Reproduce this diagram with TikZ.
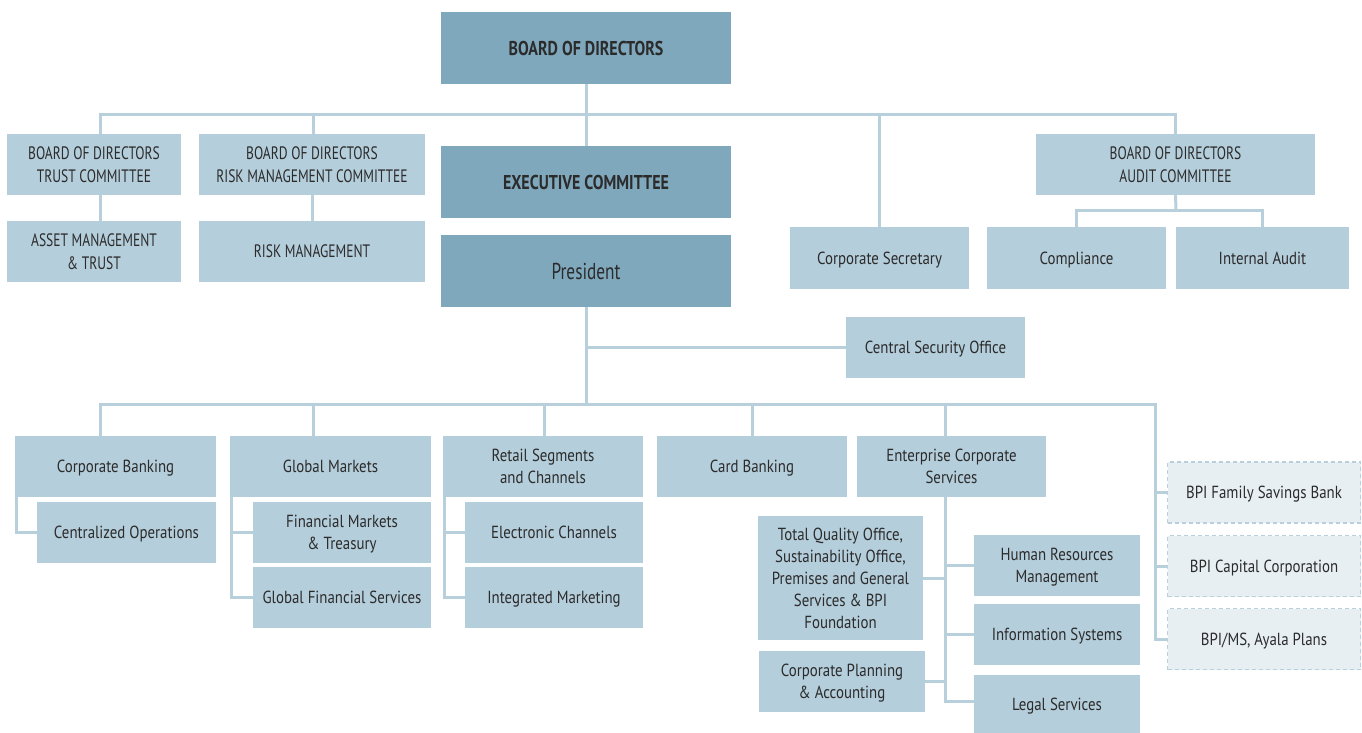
\documentclass[tikz,border=0pt]{standalone}
\usepackage{fontspec}
\setmainfont{PT Sans}[FakeStretch=0.85]
\newfontfamily\capsfont{PT Sans}[FakeStretch=0.75]
\newfontfamily\headfont{PT Sans}[FakeStretch=0.8]
\usepackage{tikz}
\usetikzlibrary{positioning,calc}
\definecolor{boxdark}{HTML}{7FA8BD}
\definecolor{boxlight}{HTML}{B5CEDB}
\definecolor{boxpale}{HTML}{E7EFF3}
\definecolor{linkcol}{HTML}{B8D0DC}
\definecolor{txtcol}{HTML}{2B2B2B}
\tikzset{
  topbox/.style={
      fill=boxdark,
      minimum width=290,
      minimum height=72,
      align=center,
      text=txtcol,
      text depth=0pt,
      font=\headfont\fontsize{20}{24}\selectfont\bfseries,
  },
  unitbox/.style={
      fill=boxlight,
      align=center,
      text=txtcol,
      text depth=0pt,
      inner sep=0pt,
      minimum height=61,
      font=\fontsize{17.5}{22}\selectfont,
  },
  capsbox/.style={
      unitbox,
      font=\capsfont\fontsize{18}{22.5}\selectfont,
  },
  subsidbox/.style={
      unitbox,
      fill=boxpale,
      draw=linkcol,
      line width=1.5,
      dash pattern=on 4 off 3,
      minimum width=193,
      minimum height=61,
  },
  link/.style={
      draw=linkcol,
      line width=3,
  }
}
\begin{document}
\begin{tikzpicture}[x=1pt,y=-1pt]
  \useasboundingbox (0,0) rectangle (1362,733);

  % top of the chart
  \node[topbox] (bod) at (586,48) {BOARD OF DIRECTORS};
  \node[topbox] (exec) at (586,182) {EXECUTIVE COMMITTEE};
  \node[topbox,font=\capsfont\fontsize{23}{26}\selectfont] (pres) at (586,271) {President};

  \node[capsbox,minimum width=174] (trustc) at (94,164.5) {BOARD OF DIRECTORS\\TRUST COMMITTEE};
  \node[capsbox,minimum width=226] (riskc) at (312,164.5) {BOARD OF DIRECTORS\\RISK MANAGEMENT COMMITTEE};
  \node[capsbox,minimum width=174] (asset) at (94,251.5) {ASSET MANAGEMENT\\\& TRUST};
  \node[capsbox,minimum width=226] (riskm) at (312,251.5) {RISK MANAGEMENT};
  \node[capsbox,minimum width=279] (auditc) at (1175.5,164.5) {BOARD OF DIRECTORS\\AUDIT COMMITTEE};
  \node[unitbox,minimum width=179,minimum height=62] (corpsec) at (879.5,258) {Corporate Secretary};
  \node[unitbox,minimum width=179,minimum height=62] (compl) at (1076.5,258) {Compliance};
  \node[unitbox,minimum width=173,minimum height=62] (intaud) at (1262.5,258) {Internal Audit};
  \node[unitbox,minimum width=179] (cso) at (935.5,347.5) {Central Security Office};

  % business groups
  \node[unitbox,minimum width=201] (corpbank) at (115.5,466.5) {Corporate Banking};
  \node[unitbox,minimum width=179] (centops) at (126.5,532.5) {Centralized Operations};
  \node[unitbox,minimum width=201] (globmkt) at (330.5,466.5) {Global Markets};
  \node[unitbox,minimum width=178] (fmt) at (342,532.5) {Financial Markets\\\& Treasury};
  \node[unitbox,minimum width=178] (gfs) at (342,597.5) {Global Financial Services};
  \node[unitbox,minimum width=200] (retail) at (543,466.5) {Retail Segments\\and Channels};
  \node[unitbox,minimum width=178] (echan) at (554,532.5) {Electronic Channels};
  \node[unitbox,minimum width=178] (intmkt) at (554,597.5) {Integrated Marketing};
  \node[unitbox,minimum width=190] (card) at (752,466.5) {Card Banking};
  \node[unitbox,minimum width=189] (ecs) at (951.5,466.5) {Enterprise Corporate\\Services};

  % enterprise corporate services
  \node[unitbox,minimum width=165,minimum height=124] (tqo) at (840.5,578)
    {Total Quality Office,\\Sustainability Office,\\Premises and General\\Services \& BPI\\Foundation};
  \node[unitbox,minimum width=166] (cpa) at (842,681.5) {Corporate Planning\\\& Accounting};
  \node[unitbox,minimum width=166] (hrm) at (1057,565.5) {Human Resources\\Management};
  \node[unitbox,minimum width=166] (infosys) at (1057,634.5) {Information Systems};
  \node[unitbox,minimum width=166,minimum height=58] (legal) at (1057,704) {Legal Services};

  % subsidiaries
  \node[subsidbox] (fsb) at (1264,492.5) {BPI Family Savings Bank};
  \node[subsidbox] (cap) at (1264,566) {BPI Capital Corporation};
  \node[subsidbox] (msap) at (1264,639) {BPI/MS, Ayala Plans};

  % connectors
  \coordinate (topbus) at (586,115);
  \coordinate (auditbus) at (1176,210);
  \coordinate (midbus) at (586,404);
  \coordinate (subbus) at (1155,404);
  \coordinate (ecsline) at ([xshift=-6.5]ecs.south);

  \path[link] (bod.south) -- (exec.north);
  \path[link] ([xshift=6]trustc.north) |- (topbus) -| (auditc.north);
  \path[link] ([xshift=6]trustc.south) -- ([xshift=6]asset.north);
  \path[link] ([xshift=1]riskc.north) -- ([xshift=1]riskc.north |- topbus);
  \path[link] (riskc.south) -- (riskm.north);
  \path[link] (corpsec.north) -- (corpsec.north |- topbus);
  \path[link] (auditc.south) -- (auditbus);
  \path[link] (compl.north) |- (auditbus) -| (intaud.north);

  \path[link] (pres.south) -- (midbus);
  \path[link] (pres.south |- cso.west) -- (cso.west);
  \path[link] ([xshift=-15.5]corpbank.north) |- (subbus) |- (msap.west);
  \path[link] (subbus |- fsb.west) -- (fsb.west);
  \path[link] (subbus |- cap.west) -- (cap.west);
  \path[link] ([xshift=-17.5]globmkt.north) -- ([xshift=-17.5]globmkt.north |- midbus);
  \path[link] ([xshift=1]retail.north) -- ([xshift=1]retail.north |- midbus);
  \path[link] (card.north) -- (card.north |- midbus);
  \path[link] (ecsline |- ecs.north) -- (ecsline |- midbus);

  \path[link] ([xshift=2]corpbank.south west) |- (centops.west);
  \path[link] ([xshift=2]globmkt.south west) |- (fmt.west);
  \path[link] ([xshift=2]globmkt.south west) |- (gfs.west);
  \path[link] ([xshift=2]retail.south west) |- (echan.west);
  \path[link] ([xshift=2]retail.south west) |- (intmkt.west);

  \path[link] (ecsline) |- ([yshift=3]legal.west);
  \path[link] (ecsline |- hrm.west) -- (hrm.west);
  \path[link] (ecsline |- infosys.west) -- (infosys.west);
  \path[link] (tqo.east) -- (tqo.east -| ecsline);
  \path[link] (cpa.east) -- (cpa.east -| ecsline);
\end{tikzpicture}
\end{document}
